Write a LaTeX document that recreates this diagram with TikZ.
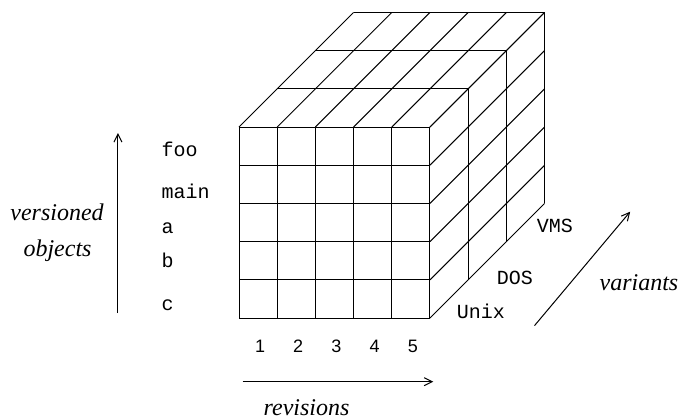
\documentclass[tikz,border=0pt]{standalone}
\usepackage{fontspec}
\setmainfont{Liberation Serif}
\setsansfont{Liberation Sans}
\setmonofont{Liberation Mono}
\usetikzlibrary{arrows.meta}

\begin{document}
\begin{tikzpicture}[x=19.1pt,y=19.1pt,line width=0.5pt,
  axis/.style={-{Straight Barb[length=4pt,width=4pt]}},
  objname/.style={font=\fontsize{10}{12}\selectfont\ttfamily,anchor=base west,inner sep=0pt},
  varname/.style={font=\fontsize{10}{12}\selectfont\ttfamily,anchor=base,inner sep=0pt},
  revnum/.style={font=\fontsize{9}{11}\selectfont\sffamily,anchor=base,inner sep=0pt},
  axislabel/.style={font=\fontsize{12}{14}\selectfont\itshape,anchor=base,inner sep=0pt}]
\useasboundingbox (-6.257,-2.644) rectangle (11.545,8.325);
% front face
\foreach \i in {0,...,5} {
  \draw (\i,0) -- (\i,5);
  \draw (0,\i) -- (5,\i);
}
% top and right faces
\foreach \i in {0,...,5} {
  \draw (\i,5) -- ++(3,3);
  \draw (5,\i) -- ++(3,3);
}
\foreach \d in {1,2,3} {
  \draw (\d,5+\d) -- (5+\d,5+\d) -- (5+\d,\d);
}
% objects
\node[objname] (foo) at (-2.04,4.222) {foo};
\node[objname] (main) at (-2.04,3.141) {main};
\node[objname] (a) at (-2.04,2.225) {a};
\node[objname] (b) at (-2.04,1.335) {b};
\node[objname] (c) at (-2.04,0.209) {c};
% revisions
\foreach \r in {1,...,5}
  \node[revnum] (rev\r) at (\r-0.45,-0.89) {\r};
% variants
\node[varname] (unix) at (6.33,0) {Unix};
\node[varname] (dos) at (7.22,0.882) {DOS};
\node[varname] (vms) at (8.27,2.233) {VMS};
% axes
\coordinate (objlow) at (-3.168,0.131);
\coordinate (objhigh) at (-3.168,4.843);
\draw[axis] (objlow) -- (objhigh);
\node[axislabel] (versioned) at (-4.764,2.565) {versioned};
\node[axislabel] (objects) at (-4.751,1.605) {objects};
\coordinate (revlow) at (0.097,-1.667);
\coordinate (revhigh) at (5.086,-1.667);
\draw[axis] (revlow) -- (revhigh);
\node[axislabel] (revisions) at (1.77,-2.55) {revisions};
\coordinate (varlow) at (7.736,-0.2);
\coordinate (varhigh) at (10.241,2.783);
\draw[axis] (varlow) -- (varhigh);
\node[axislabel] (variants) at (10.47,0.733) {variants};
\end{tikzpicture}
\end{document}
